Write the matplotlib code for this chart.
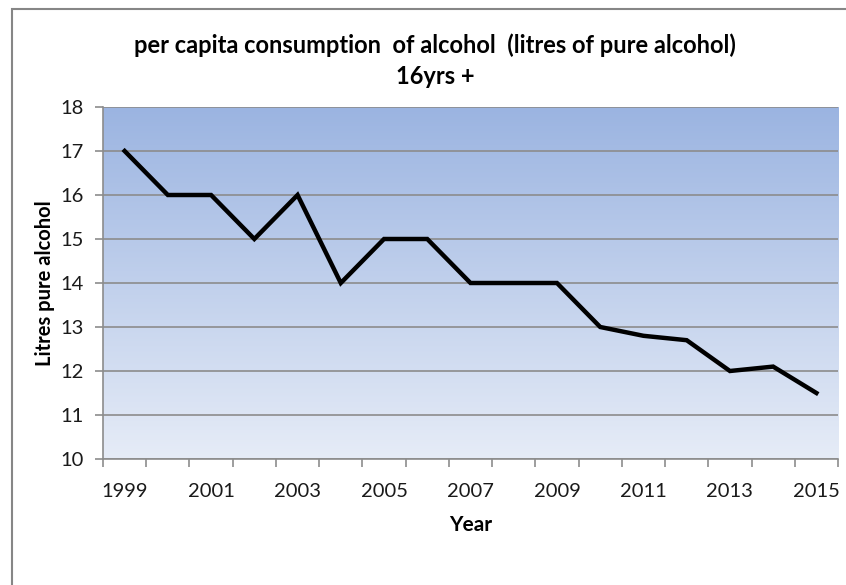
import numpy as np
import matplotlib
matplotlib.use("Agg")
import matplotlib.pyplot as plt
from matplotlib.colors import LinearSegmentedColormap
from matplotlib.patches import Rectangle

# figure settings
plt.rcParams['font.family'] = ['Lato', 'DejaVu Sans']

# data
years = [1999, 2000, 2001, 2002, 2003, 2004, 2005, 2006, 2007, 2008,
         2009, 2010, 2011, 2012, 2013, 2014, 2015]
litres = [17, 16, 16, 15, 16, 14, 15, 15, 14, 14,
          14, 13, 12.8, 12.7, 12, 12.1, 11.5]
y_ticks = [10, 11, 12, 13, 14, 15, 16, 17, 18]

W, H = 846, 585
fig = plt.figure(figsize=(W / 100.0, H / 100.0), dpi=100)

# chart area border (only top and left visible in the crop)
fig.patches.append(Rectangle((12.0 / W, -0.5), 2.0, 1.5 - 9.0 / H,
                             transform=fig.transFigure, fill=False,
                             edgecolor='#868686', linewidth=1.5))

ax = fig.add_axes([103.0 / W, 1 - 459.0 / H, 735.0 / W, 352.0 / H])

# gradient plot background
grad = LinearSegmentedColormap.from_list('bg', ['#e6ecf7', '#9bb4e1'])
ax.imshow(np.linspace(0, 1, 256).reshape(-1, 1), cmap=grad, aspect='auto',
          origin='lower', extent=[0, 1, 0, 1], transform=ax.transAxes,
          zorder=0)

x = np.arange(len(years))
ax.plot(x, litres, color='black', linewidth=3.2, solid_joinstyle='miter',
        zorder=3)

ax.set_xlim(-0.5, len(years) - 0.5)
ax.set_ylim(10, 18)
ax.set_yticks(y_ticks)
ax.set_yticklabels([str(v) for v in y_ticks])
ax.yaxis.grid(True, color='#8c8c8c', linewidth=1.2, zorder=1)
ax.set_axisbelow(True)

# category axis: labels every other year, tick marks between categories
ax.set_xticks(x[::2])
ax.set_xticklabels([str(y) for y in years[::2]])
ax.set_xticks(np.arange(-0.5, len(years)), minor=True)
ax.tick_params(axis='x', which='major', length=0, pad=17,
               labelsize=14.5, labelcolor='#1a1a1a')
ax.tick_params(axis='x', which='minor', length=6, width=1.2,
               color='#8c8c8c', direction='out')
ax.tick_params(axis='y', length=6, width=1.2, color='#8c8c8c',
               labelsize=14.5, labelcolor='#1a1a1a', pad=8)

for side in ['top', 'right']:
    ax.spines[side].set_visible(False)
for side in ['left', 'bottom']:
    ax.spines[side].set_color('#8c8c8c')
    ax.spines[side].set_linewidth(1.2)

ax.set_xlabel('Year', fontsize=15, fontweight='bold', labelpad=11)
ax.set_ylabel('Litres pure alcohol', fontsize=14.5, fontweight='bold',
              labelpad=4)

fig.text(435.0 / W, 1 - 45.0 / H,
         'per capita consumption  of alcohol  (litres of pure alcohol)',
         ha='center', va='center', fontsize=17, fontweight='bold')
fig.text(435.0 / W, 1 - 76.0 / H, '16yrs +', ha='center', va='center',
         fontsize=17, fontweight='bold')

plt.savefig('out.png', dpi=100)
